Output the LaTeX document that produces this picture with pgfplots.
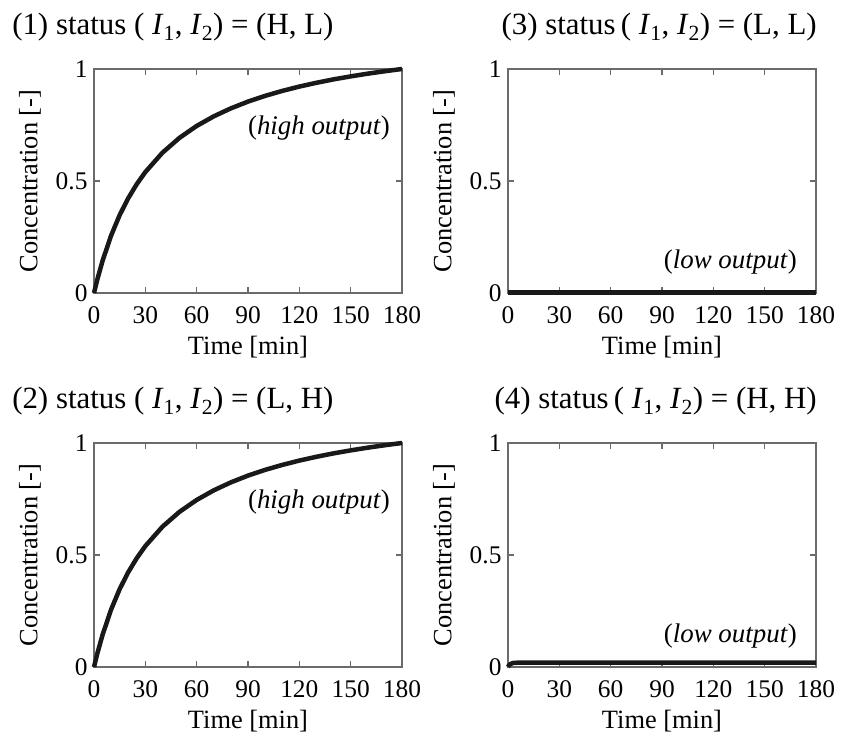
\documentclass[border=0pt]{standalone}
\usepackage{pgfplots}
\pgfplotsset{compat=1.18}
\usepackage{fontspec}
\setmainfont{Liberation Serif}
\definecolor{axgray}{gray}{0.42}
\pgfplotsset{
  panel/.style={
    scale only axis, width=308bp, height=224bp,
    anchor=south west,
    xmin=0, xmax=180, ymin=0, ymax=1,
    xtick={0,30,60,90,120,150,180},
    ytick={0,0.5,1},
    tick align=inside,
    major tick length=6bp,
    axis line style={axgray, line width=1.6bp},
    every tick/.style={axgray, line width=1.4bp},
    tick label style={font=\fontsize{25.5}{29}\selectfont},
    label style={font=\fontsize{26.5}{30}\selectfont},
    xlabel={Time [min]},
    ylabel={Concentration [-]},
    xlabel style={at={(axis description cs:0.5,0)}, anchor=center, yshift=-54bp},
    ylabel style={at={(axis description cs:0,0.5)}, anchor=center, yshift=64bp},
    xticklabel style={yshift=-10bp},
    yticklabel style={xshift=-3bp},
    /pgf/number format/assume math mode=true,
    clip=false,
  },
  curve/.style={black!90, line width=4.5bp, line join=round},
}
\tikzset{
  ttl/.style={font=\fontsize{31}{35}\selectfont, inner sep=0pt},
  ann/.style={font=\fontsize{27}{31}\selectfont, anchor=east, inner sep=0pt},
}
\pgfplotstableread{
t c
0 0
2 0.0618
5 0.1435
10 0.2565
15 0.3478
20 0.4230
25 0.4861
30 0.5398
40 0.6263
50 0.6929
60 0.7457
70 0.7887
80 0.8243
90 0.8544
100 0.8800
110 0.9021
120 0.9215
130 0.9385
140 0.9537
150 0.9670
160 0.9792
170 0.9901
180 1.0
}\high
\pgfplotstableread{
t c
0 0.002
180 0.002
}\lowA
\pgfplotstableread{
t c
0 0
0.5 0.007
1 0.011
2 0.015
3 0.018
5 0.019
8 0.020
15 0.020
180 0.020
}\lowB
\begin{document}
\begin{tikzpicture}
\useasboundingbox (0,0) rectangle (842bp,737bp);
% (1)
\begin{axis}[panel, at={(94bp,444bp)}]
\addplot[curve] table {\high};
\node[ttl, anchor=west] at (axis description cs:-0.266,1.185) {(1) status ( \textit{I}\textsubscript{1}, \textit{I}\textsubscript{2}) = (H, L)};
\node[ann] at (axis description cs:0.961,0.737) {(\textit{high output})};
\end{axis}
% (3)
\begin{axis}[panel, at={(508bp,444bp)}]
\addplot[curve] table {\lowA};
\node[ttl, anchor=east] at (axis description cs:1.003,1.185) {(3) status\,( \textit{I}\textsubscript{1}, \textit{I}\textsubscript{2}) = (L, L)};
\node[ann] at (axis description cs:0.938,0.14) {(\textit{low output})};
\end{axis}
% (2)
\begin{axis}[panel, at={(94bp,70bp)}]
\addplot[curve] table {\high};
\node[ttl, anchor=west] at (axis description cs:-0.266,1.185) {(2) status ( \textit{I}\textsubscript{1}, \textit{I}\textsubscript{2}) = (L, H)};
\node[ann] at (axis description cs:0.961,0.737) {(\textit{high output})};
\end{axis}
% (4)
\begin{axis}[panel, at={(508bp,70bp)}]
\addplot[curve] table {\lowB};
\node[ttl, anchor=east] at (axis description cs:1.003,1.185) {(4) status\,( \textit{I}\textsubscript{1}, \textit{I}\textsubscript{2}) = (H, H)};
\node[ann] at (axis description cs:0.938,0.14) {(\textit{low output})};
\end{axis}
\end{tikzpicture}
\end{document}
